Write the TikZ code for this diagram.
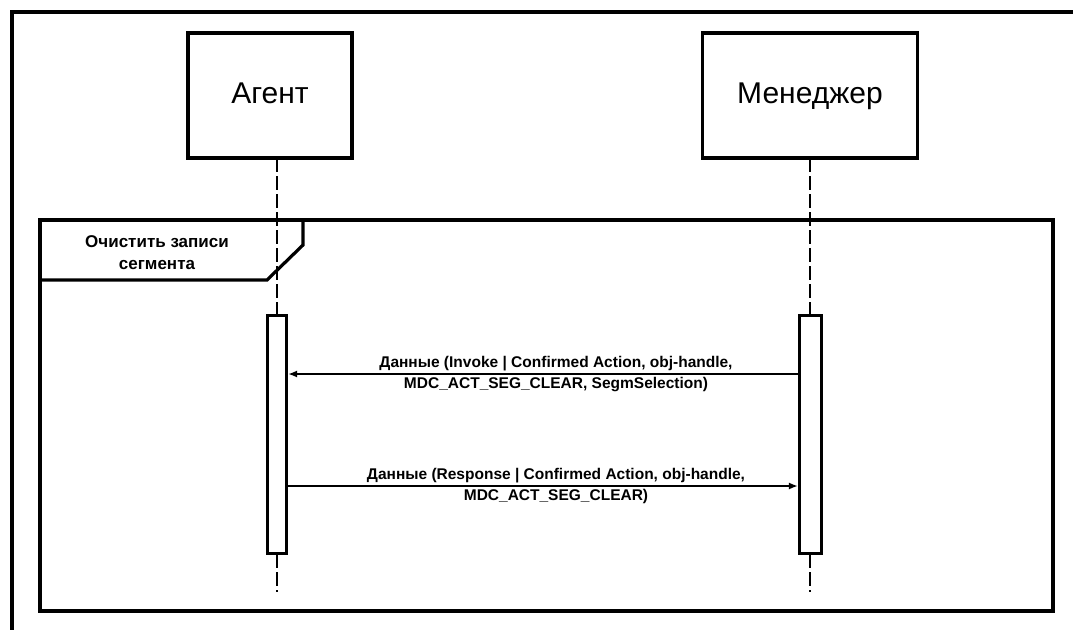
\documentclass[tikz,border=0pt]{standalone}
\usepackage{fontspec}
\setmainfont{Liberation Sans}
\usetikzlibrary{arrows.meta}
\begin{document}
\begin{tikzpicture}[x=1pt,y=-1pt,
  actorbox/.style={draw, line width=3.2pt, minimum width=164pt, minimum height=125pt,
    inner sep=0pt, font=\fontsize{30}{32}\selectfont, text height=22pt, text depth=7pt},
  lifeline/.style={line width=2.6pt, dash pattern=on 14pt off 4pt},
  activation/.style={draw, fill=white, line width=3.2pt, minimum width=19pt,
    minimum height=238pt, inner sep=0pt},
  frame/.style={line width=3.2pt},
  msg/.style={line width=1.6pt, -{Latex[length=9pt,width=7pt]}},
  msglabel/.style={font=\bfseries\fontsize{15.5}{17}\selectfont, inner sep=2.5pt, xshift=13pt},
  fraglabel/.style={font=\bfseries\fontsize{17}{22}\selectfont, align=center}
]
\useasboundingbox (0,0) rectangle (1073,629);

% outer border (open to the right and bottom)
\draw[frame] (12,640) -- (12,12) -- (1090,12);

% participants
\node[actorbox] (agent) at (270,95.5) {Агент};
\node[actorbox, minimum width=215pt] (mgr) at (810,95.5) {Менеджер};

% combined fragment
\draw[frame] (40,220) rectangle (1053,611);
\draw[frame] (40,220) -- (303,220) -- (303,245) -- (267,280) -- (40,280);
\node[fraglabel] (frag) at (157,253) {Очистить записи\\сегмента};

% lifeline anchors
\coordinate (aTop) at (277,158);
\coordinate (aEnd) at (277,592);
\coordinate (mTop) at (810,158);
\coordinate (mEnd) at (810,592);
\draw[lifeline] (aTop) -- (aEnd);
\draw[lifeline] (mTop) -- (mEnd);

% activation bars
\node[activation, anchor=north] (abar) at (277,314) {};
\node[activation, anchor=north, minimum width=22pt] (mbar) at (810.5,314) {};

% messages
\draw[msg] (mbar.west |- 0,374) coordinate (m1s) -- (abar.east |- 0,374) coordinate (m1e)
  node[midway, above, msglabel] {Данные (Invoke | Confirmed Action, obj-handle,}
  node[midway, below, msglabel] {MDC\_ACT\_SEG\_CLEAR, SegmSelection)};
\draw[msg] (abar.east |- 0,486) coordinate (m2s) -- (mbar.west |- 0,486) coordinate (m2e)
  node[midway, above, msglabel] {Данные (Response | Confirmed Action, obj-handle,}
  node[midway, below, msglabel] {MDC\_ACT\_SEG\_CLEAR)};
\end{tikzpicture}
\end{document}
